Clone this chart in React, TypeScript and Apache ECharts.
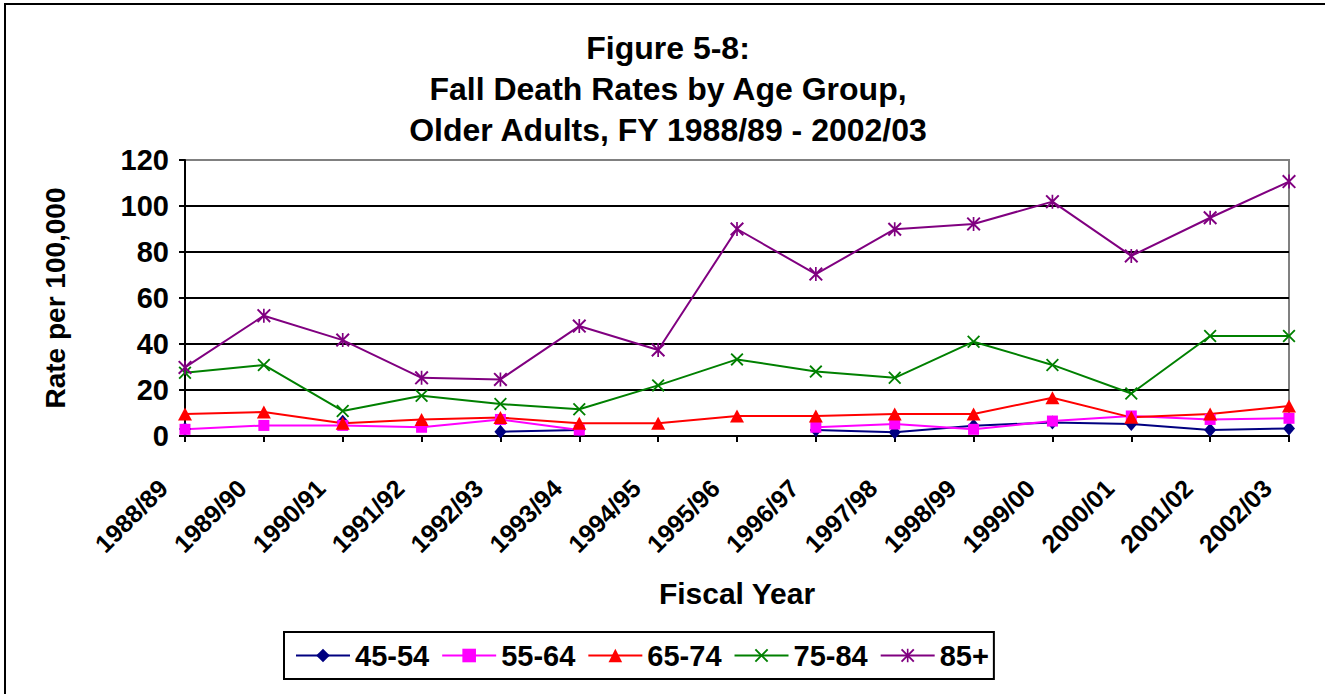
import { useEffect, useRef } from "react";
import * as echarts from "echarts";

const categories = [
  "1988/89", "1989/90", "1990/91", "1991/92", "1992/93", "1993/94", "1994/95", "1995/96",
  "1996/97", "1997/98", "1998/99", "1999/00", "2000/01", "2001/02", "2002/03",
];

const seriesNames = ["45-54", "55-64", "65-74", "75-84", "85+"];

const age45to54 = [3.0, null, 6.2, null, 1.9, 2.6, null, null, 2.6, 1.6, 4.5, 5.9, 5.2, 2.6, 3.3];
const age55to64 = [2.9, 4.6, 4.6, 3.8, 7.2, 2.6, null, null, 3.8, 5.2, 2.9, 6.5, 8.7, 7.2, 7.7];
const age65to74 = [9.6, 10.4, 5.5, 7.2, 8.0, 5.5, 5.5, 8.7, 8.7, 9.6, 9.6, 16.6, 8.1, 9.6, 13.0];
const age75to84 = [27.5, 30.9, 10.9, 17.5, 13.9, 11.6, 22.0, 33.3, 28.0, 25.3, 41.0, 30.9, 18.5, 43.5, 43.5];
const age85plus = [29.8, 52.3, 41.7, 25.3, 24.6, 47.8, 37.4, 90.0, 70.4, 89.9, 92.2, 101.9, 78.3, 94.9, 110.6];

const yMin = 0;
const yMax = 120;
const yInterval = 20;

const FONT = "'Liberation Sans', Arial, sans-serif";
const X_SYMBOL = "path://M0,1 L1,0 L5,4 L9,0 L10,1 L6,5 L10,9 L9,10 L5,6 L1,10 L0,9 L4,5 Z";
const STAR_SYMBOL =
  "path://M0,1 L1,0 L5,4 L9,0 L10,1 L6,5 L10,9 L9,10 L5,6 L1,10 L0,9 L4,5 Z M4.4,0 L5.6,0 L5.6,10 L4.4,10 Z";

export default function App() {
  const ref = useRef<HTMLDivElement>(null);

  useEffect(() => {
    document.body.style.margin = "0";
    if (!ref.current) return;
    const chart = echarts.init(ref.current, undefined, { renderer: "svg" });

    const mk = (name: string, data: (number | null)[], color: string, symbol: string, size: any) => ({
      name,
      type: "line",
      data,
      color,
      symbol,
      symbolSize: size,
      showAllSymbol: true,
      connectNulls: false,
      lineStyle: { width: 2, color },
      itemStyle: { color },
    });

    chart.setOption({
      animation: false,
      textStyle: { fontFamily: FONT },
      title: {
        text: "Figure 5-8:\nFall Death Rates by Age Group,\nOlder Adults, FY 1988/89 - 2002/03",
        left: 668,
        top: 27,
        padding: 0,
        textAlign: "center",
        textStyle: {
          fontFamily: FONT,
          fontSize: 32,
          fontWeight: "bold",
          color: "#000",
          lineHeight: 41,
        },
      },
      graphic: [
        {
          type: "rect",
          shape: { x: 5, y: 4, width: 1330, height: 700 },
          style: { fill: "none", stroke: "#000", lineWidth: 2 },
          silent: true,
        },
      ],
      legend: {
        left: 284,
        top: 632,
        orient: "horizontal",
        itemWidth: 54,
        itemHeight: 17,
        itemGap: 12,
        padding: [9, 5, 9, 11],
        borderColor: "#000",
        borderWidth: 2,
        textStyle: { fontFamily: FONT, fontSize: 29, fontWeight: "bold", color: "#000" },
        data: seriesNames,
      },
      grid: {
        left: 185,
        right: 36,
        top: 160,
        bottom: 258,
        show: true,
        borderColor: "#808080",
        borderWidth: 2,
        backgroundColor: "transparent",
      },
      xAxis: {
        type: "category",
        data: categories,
        boundaryGap: false,
        name: "Fiscal Year",
        nameLocation: "middle",
        nameGap: 142,
        nameTextStyle: { fontFamily: FONT, fontSize: 30, fontWeight: "bold", color: "#000" },
        axisLine: { lineStyle: { color: "#000", width: 2 } },
        axisTick: { show: true, length: 6, interval: 0, lineStyle: { color: "#000", width: 2 } },
        axisLabel: {
          interval: 0,
          rotate: 45,
          margin: 26,
          padding: [0, 31, 0, 0],
          fontFamily: FONT,
          fontSize: 25,
          fontWeight: "bold",
          color: "#000",
        },
        splitLine: { show: false },
      },
      yAxis: {
        type: "value",
        min: yMin,
        max: yMax,
        interval: yInterval,
        name: "Rate per 100,000",
        nameLocation: "middle",
        nameRotate: 90,
        nameGap: 116,
        nameTextStyle: { fontFamily: FONT, fontSize: 28, fontWeight: "bold", color: "#000" },
        axisLine: { show: true, lineStyle: { color: "#000", width: 2 } },
        axisTick: { show: true, length: 6, lineStyle: { color: "#000", width: 2 } },
        axisLabel: { margin: 16, fontFamily: FONT, fontSize: 29, fontWeight: "bold", color: "#000" },
        splitLine: {
          show: true,
          lineStyle: {
            color: ["#000000", "#000000", "#000000", "#000000", "#000000", "#000000", "#808080"],
            width: 2,
          },
        },
      },
      series: [
        mk(seriesNames[0], age45to54, "#000080", "diamond", [12, 14]),
        mk(seriesNames[1], age55to64, "#FF00FF", "rect", 11),
        mk(seriesNames[2], age65to74, "#FF0000", "triangle", [14, 13]),
        mk(seriesNames[3], age75to84, "#008000", X_SYMBOL, 13),
        mk(seriesNames[4], age85plus, "#800080", STAR_SYMBOL, 14),
      ],
    });

    return () => chart.dispose();
  }, []);

  return <div ref={ref} style={{ width: 1325, height: 694 }} />;
}
